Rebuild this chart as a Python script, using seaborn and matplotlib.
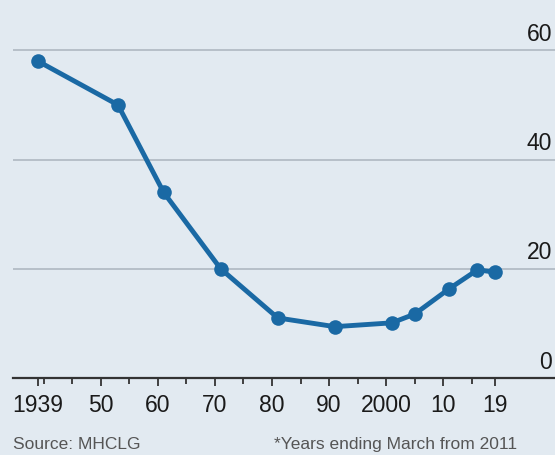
import pandas as pd
import matplotlib
matplotlib.use('Agg')
import matplotlib.pyplot as plt
import seaborn as sns

# share of households renting privately, %
years = [1939, 1953, 1961, 1971, 1981, 1991, 2001, 2005, 2011, 2016, 2019]
share = [58.0, 50.0, 34.0, 20.0, 11.0, 9.4, 10.1, 11.7, 16.3, 19.8, 19.4]
y_ticks = [0, 20, 40, 60]
x_labels = ['1939', '50', '60', '70', '80', '90', '2000', '10', '19']
x_label_years = [1939, 1950, 1960, 1970, 1980, 1990, 2000, 2010, 2019]
minor_years = [1940, 1945, 1955, 1965, 1975, 1985, 1995, 2005, 2015]

df = pd.DataFrame({'year': years, 'share': share})

bg = '#e2eaf1'
blue = '#1a69a4'

sns.set_style('white')
plt.rcParams['font.family'] = ['Liberation Sans', 'DejaVu Sans']

fig = plt.figure(figsize=(5.55, 4.56), dpi=100)
fig.patch.set_facecolor(bg)
ax = fig.add_axes([13 / 555, 77 / 456, 542 / 555, 379 / 456])
ax.set_facecolor(bg)

sns.lineplot(data=df, x='year', y='share', ax=ax, color=blue, linewidth=3.5,
             marker='o', markersize=10.5, markeredgewidth=0, zorder=3)

ax.set_xlim(1934.6, 2029.6)
ax.set_ylim(0, 69.4)

# gridlines
for v in y_ticks[1:]:
    ax.axhline(v, color='#b3bcc5', linewidth=1.3, zorder=1)
for v in y_ticks:
    ax.text(0.9945, v + 1.0, str(v), transform=ax.get_yaxis_transform(),
            ha='right', va='bottom', fontsize=16.5, color='#1a1a1a')

for s in ['top', 'right', 'left']:
    ax.spines[s].set_visible(False)
ax.spines['bottom'].set_color('#333333')
ax.spines['bottom'].set_linewidth(1.6)

ax.set_yticks([])
ax.set_xticks(x_label_years)
ax.set_xticklabels(x_labels, fontsize=16.5, color='#1a1a1a')
ax.set_xticks(minor_years, minor=True)
ax.tick_params(axis='x', which='major', direction='out', length=6, width=1.3,
               color='#333333', pad=5, bottom=True)
ax.tick_params(axis='x', which='minor', direction='out', length=4.5, width=1.3,
               color='#333333', bottom=True)
ax.set_xlabel('')
ax.set_ylabel('')

fig.text(13 / 555, 4 / 456, 'Source: MHCLG', ha='left', va='bottom',
         fontsize=12.5, color='#555555')
fig.text(517 / 555, 4 / 456, '*Years ending March from 2011', ha='right',
         va='bottom', fontsize=12.5, color='#555555')

fig.savefig('out.png', dpi=100, facecolor=bg)
